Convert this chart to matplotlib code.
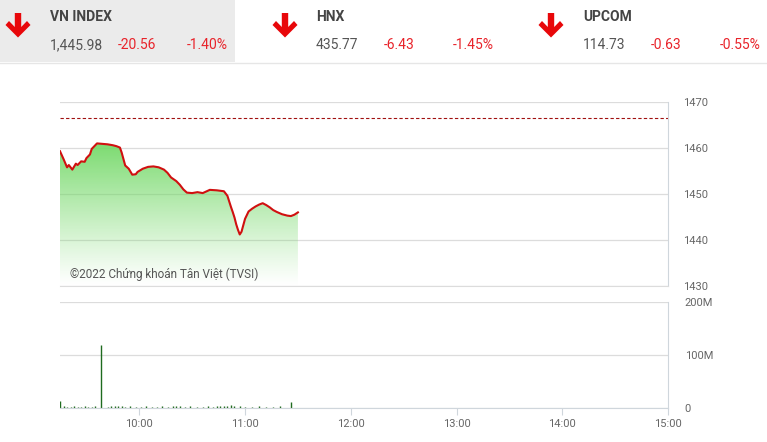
import matplotlib.pyplot as plt
import numpy as np
from matplotlib.patches import Polygon, Rectangle

plt.rcParams['font.family'] = ['Roboto', 'DejaVu Sans']

# Header quotes
index_names = ['VN INDEX', 'HNX', 'UPCOM']
index_values = ['1,445.98', '435.77', '114.73']
index_changes = ['-20.56', '-6.43', '-0.63']
index_pcts = ['-1.40%', '-1.45%', '-0.55%']

# VN-Index intraday (time, points)
price_times = ['09:15', '09:17', '09:19', '09:20', '09:22', '09:24', '09:25', '09:27',
               '09:29', '09:30', '09:32', '09:33', '09:36', '09:39', '09:42', '09:45',
               '09:47', '09:49', '09:50', '09:51', '09:52', '09:54', '09:56', '09:58',
               '09:59', '10:02', '10:05', '10:08', '10:11', '10:14', '10:16', '10:18',
               '10:21', '10:23', '10:25', '10:27', '10:30', '10:33', '10:36', '10:40',
               '10:44', '10:48', '10:50', '10:51', '10:52', '10:53', '10:54', '10:55',
               '10:56', '10:57', '10:58', '10:59', '11:00', '11:02', '11:04', '11:06',
               '11:08', '11:10', '11:12', '11:14', '11:16', '11:18', '11:21', '11:24',
               '11:26', '11:28', '11:30']
price_values = [1459.3, 1457.6, 1455.8, 1456.3, 1455.3, 1456.6, 1456.3, 1457.1,
                1457.0, 1457.8, 1458.6, 1459.8, 1461.0, 1460.9, 1460.8, 1460.6,
                1460.4, 1460.1, 1459.0, 1457.6, 1456.2, 1455.5, 1454.2, 1454.3,
                1454.8, 1455.5, 1455.9, 1456.0, 1455.8, 1455.3, 1454.6, 1453.6,
                1452.8, 1452.0, 1451.0, 1450.3, 1450.2, 1450.4, 1450.2, 1450.9,
                1450.8, 1450.6, 1449.6, 1448.4, 1447.2, 1446.1, 1444.9, 1443.4,
                1442.2, 1441.2, 1441.8, 1443.2, 1444.6, 1446.2, 1446.8, 1447.3,
                1447.7, 1448.0, 1447.6, 1447.1, 1446.5, 1446.1, 1445.6, 1445.3,
                1445.2, 1445.5, 1446.0]
ref_price = 1466.54

# Matched volume (time, shares)
vol_times = ['09:15', '09:17', '09:19', '09:21', '09:23', '09:25', '09:27', '09:29',
             '09:31', '09:33', '09:35', '09:38', '09:42', '09:44', '09:46', '09:48',
             '09:50', '09:52', '09:55', '09:58', '10:01', '10:04', '10:07', '10:10',
             '10:13', '10:16', '10:19', '10:21', '10:23', '10:26', '10:29', '10:33',
             '10:36', '10:39', '10:42', '10:44', '10:46', '10:48', '10:50', '10:52',
             '10:54', '10:57', '11:00', '11:04', '11:08', '11:12', '11:16', '11:20',
             '11:26']
vol_values = [13e6, 3e6, 2e6, 2e6, 3e6, 2e6, 2e6, 3e6,
              2e6, 2e6, 3e6, 119e6, 2e6, 3e6, 4e6, 3e6,
              4e6, 2e6, 3e6, 2e6, 2e6, 3e6, 2e6, 2e6,
              3e6, 2e6, 3e6, 4e6, 3e6, 2e6, 3e6, 2e6,
              2e6, 3e6, 2e6, 3e6, 4e6, 3e6, 4e6, 5e6,
              3e6, 3e6, 2e6, 2e6, 3e6, 2e6, 2e6, 3e6,
              12e6]

tick_times = ['10:00', '11:00', '12:00', '13:00', '14:00', '15:00']
price_ticks = [1430, 1440, 1450, 1460, 1470]
vol_ticks = [0, 100e6, 200e6]
vol_tick_labels = ['0', '100M', '200M']


def to_min(t):
    h, m = t.split(':')
    return int(h) * 60 + int(m)


px = np.array([to_min(t) for t in price_times])
py = np.array(price_values)
vx = np.array([to_min(t) for t in vol_times])
vy = np.array(vol_values)
tx = [to_min(t) for t in tick_times]
x0, x1 = to_min('09:15'), to_min('15:00')

fig = plt.figure(figsize=(7.67, 4.42), dpi=100)
fig.patch.set_facecolor('white')

# ---- header (pixel coordinates) ----
hdr = fig.add_axes([0, 0, 1, 1], zorder=0)
hdr.set_xlim(0, 767)
hdr.set_ylim(442, 0)
hdr.axis('off')
hdr.add_patch(Rectangle((0, 0), 235, 62, color='#ebebeb', lw=0))
hdr.plot([0, 767], [62.5, 62.5], color='#e6e6e6', lw=1)

for x in [18, 285, 551]:
    cx = x
    arrow = [(cx, 37.5), (cx - 12.5, 25), (cx - 9, 21), (cx - 3.2, 27), (cx - 3.2, 13),
             (cx + 3.2, 13), (cx + 3.2, 27), (cx + 9, 21), (cx + 12.5, 25)]
    hdr.add_patch(Polygon(arrow, closed=True, color='#e8070a', lw=0))

for i, x in enumerate([50, 316, 583]):
    hdr.text(x, 17, index_names[i], fontsize=10, fontweight='bold',
             color='#444444', va='center', ha='left')
    hdr.text(x, 45, index_values[i], fontsize=10, color='#555555', va='center', ha='left')
    hdr.text(x + 68, 45, index_changes[i], fontsize=10, color='#e8232a', va='center', ha='left')
    hdr.text(x + 137, 45, index_pcts[i], fontsize=10, color='#e8232a', va='center', ha='left')

# ---- price chart ----
ax = fig.add_axes([60 / 767, 1 - 286 / 442, 608 / 767, 184 / 442], zorder=1)
ax.set_facecolor('none')
ax.set_xlim(x0, x1)
ax.set_ylim(1430, 1470)

grad = np.linspace(1, 0, 256).reshape(-1, 1)
green = np.zeros((256, 1, 4))
green[..., 0] = 0.45
green[..., 1] = 0.85
green[..., 2] = 0.40
green[..., 3] = grad ** 1.1 * 0.95
im = ax.imshow(green, extent=[px[0], px[-1], 1430, 1461.5], aspect='auto',
               origin='upper', zorder=1)
poly = Polygon(np.column_stack([np.r_[px, px[-1], px[0]], np.r_[py, 1430, 1430]]),
               closed=True, transform=ax.transData, facecolor='none', edgecolor='none')
ax.add_patch(poly)
im.set_clip_path(poly)

ax.plot(px, py, color='#d01010', lw=1.5, zorder=3)
ax.axhline(ref_price, color='#a01010', lw=0.8, ls=(0, (3, 2)), zorder=2)

ax.set_yticks(price_ticks)
ax.yaxis.grid(True, color='#dcdcdc', lw=0.9)
ax.set_axisbelow(True)
ax.yaxis.tick_right()
ax.tick_params(axis='y', length=0, labelsize=8, labelcolor='#666666', pad=11)
ax.set_xticks([])
for s in ['left', 'top']:
    ax.spines[s].set_visible(False)
ax.spines['right'].set_color('#cfd6dc')
ax.spines['bottom'].set_color('#dcdcdc')
ax.text(0.017, 0.045, '©2022 Chứng khoán Tân Việt (TVSI)', transform=ax.transAxes,
        fontsize=8.5, color='#555555', zorder=4)

# ---- volume chart ----
bx = fig.add_axes([60 / 767, 1 - 408 / 442, 608 / 767, 106 / 442], zorder=1)
bx.set_facecolor('none')
bx.set_xlim(x0, x1)
bx.set_ylim(0, 200e6)
bx.vlines(vx, 0, vy, color='#1f6b1f', lw=1)
bx.set_yticks(vol_ticks)
bx.set_yticklabels(vol_tick_labels)
bx.yaxis.grid(True, color='#dcdcdc', lw=0.9)
bx.set_axisbelow(True)
bx.yaxis.tick_right()
bx.tick_params(axis='y', length=0, labelsize=8, labelcolor='#666666', pad=12)
bx.set_xticks(tx)
bx.set_xticklabels(tick_times)
bx.tick_params(axis='x', length=5, color='#cfd6dc', labelsize=8, labelcolor='#666666', pad=3)
for s in ['left', 'top']:
    bx.spines[s].set_visible(False)
bx.spines['right'].set_color('#cfd6dc')
bx.spines['bottom'].set_color('#cfd6dc')

fig.savefig('out.png', dpi=100)
